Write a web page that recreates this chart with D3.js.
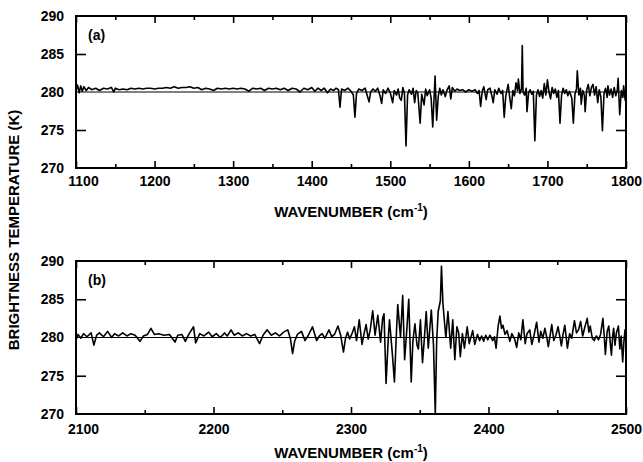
<!DOCTYPE html>
<html><head><meta charset="utf-8">
<script src="https://cdn.jsdelivr.net/npm/d3@7"></script>
<style>
body{margin:0;background:#fff;}
svg text{font-family:"Liberation Sans",Arial,sans-serif;font-weight:bold;fill:#000;}
</style></head>
<body><svg id="c" width="643" height="462"></svg>
<script>
// ---- Panel (a) data ----
const waveA = [1100,1102,1104,1106,1108,1110,1113,1116,1120,1125,1130,1135,1140,1145,1148,1150,1155,1160,1165,1170,1175,1180,1185,1190,1195,1200,1205,1210,1215,1220,1225,1230,1235,1240,1245,1250,1255,1260,1265,1270,1275,1280,1285,1290,1295,1300,1305,1310,1315,1320,1325,1330,1335,1340,1345,1350,1355,1360,1365,1370,1375,1380,1385,1390,1395,1400,1404,1408,1412,1416,1420,1424,1428,1431,1434,1436,1438,1442,1446,1450,1453,1455,1457,1460,1464,1468,1471,1473,1475,1478,1481,1484,1487,1489,1491,1494,1497,1500,1503,1505,1508,1510,1512,1514,1516,1518,1520,1522,1524,1527,1529,1531,1533,1535,1538,1540,1543,1545,1547,1550,1552,1554,1556,1557,1559,1561,1563,1565,1567,1570,1572,1575,1577,1579,1582,1585,1588,1592,1596,1600,1604,1608,1611,1613,1615,1617,1619,1622,1624,1627,1629,1631,1633,1636,1638,1641,1643,1645,1647,1650,1652,1654,1656,1658,1660,1662,1663,1665,1667,1668,1669,1671,1673,1674,1676,1678,1680,1682,1684,1686,1688,1690,1692,1694,1696,1698,1700,1702,1704,1706,1708,1710,1712,1714,1716,1718,1720,1722,1724,1726,1728,1731,1733,1735,1737,1738,1740,1742,1743,1745,1747,1748,1750,1752,1754,1756,1758,1760,1762,1764,1766,1768,1770,1772,1774,1776,1777,1779,1781,1783,1785,1787,1789,1790,1792,1794,1796,1797,1799,1800];
const tempA = [280.2,280.9,279.9,280.8,280.1,280.7,280.2,280.6,280.3,280.5,280.2,280.5,280.4,280.6,280.0,280.5,280.3,280.4,280.3,280.5,280.4,280.5,280.4,280.5,280.5,280.4,280.5,280.5,280.6,280.5,280.7,280.5,280.6,280.6,280.7,280.5,280.6,280.3,280.5,280.4,280.2,280.5,280.4,280.5,280.4,280.5,280.4,280.5,280.4,280.1,280.5,280.4,280.5,280.2,280.5,280.4,280.5,280.3,280.5,280.2,280.5,280.4,280.0,280.5,280.3,280.6,280.1,280.5,280.2,280.5,279.9,280.4,280.2,280.5,280.3,278.0,280.4,280.2,280.5,280.1,279.6,276.7,279.8,280.4,280.2,280.5,279.4,278.7,280.0,280.4,280.1,280.5,279.5,278.5,280.3,279.8,280.5,279.9,278.6,280.2,279.6,280.4,279.2,278.9,280.6,279.8,272.9,279.6,280.3,279.7,280.5,278.6,280.2,279.9,275.9,279.7,278.3,280.4,279.5,280.3,279.2,275.4,279.8,282.1,276.3,279.4,280.5,279.6,280.3,279.4,280.2,280.8,279.1,280.6,280.1,280.4,280.2,280.3,280.0,280.3,280.1,280.3,279.8,280.2,278.1,280.1,280.7,279.0,280.3,280.5,279.6,278.6,280.3,279.7,280.5,279.8,280.2,276.7,279.5,281.0,279.3,277.8,280.2,279.5,281.2,280.2,281.7,279.8,280.4,286.1,280.0,279.6,280.5,277.4,279.9,280.3,279.7,280.1,273.6,279.6,280.3,279.4,280.2,279.2,281.1,279.6,281.6,280.0,279.1,280.6,279.8,280.4,279.3,280.2,275.9,279.6,280.5,279.8,280.3,279.5,280.1,279.2,275.9,279.7,280.4,282.8,279.6,280.5,278.4,280.2,279.6,277.4,280.3,281.0,279.5,280.6,281.0,279.6,280.7,278.6,280.3,279.4,274.9,279.8,280.5,279.3,280.8,279.6,280.4,279.3,280.6,279.5,280.3,281.8,277.0,280.2,279.3,280.8,278.9,280.2];

// ---- Panel (b) data ----
const waveB = [2100,2101.5,2103.5,2105.5,2108,2111,2113,2115,2117,2120,2123,2126,2128,2131,2134,2137,2140,2143,2146.5,2149,2152,2154.5,2157,2160,2164,2168,2172,2174,2177,2179.5,2182,2185.5,2187,2190,2193,2196.5,2199,2202,2205,2208,2210,2212.8,2215,2218,2221,2224,2227,2230,2233.5,2236,2239,2242,2245,2248,2251,2254,2256,2257.5,2259,2261,2264,2266.5,2269,2272,2275,2277,2279,2281,2284,2286,2288,2290.5,2292.5,2294.5,2296,2297.5,2299,2300.5,2302.5,2304,2306,2308,2309.5,2311,2312.5,2314,2315.8,2317.5,2319.5,2320.5,2321.5,2323,2324,2325.5,2327,2328,2330,2331.6,2333,2334,2336,2337.6,2339,2340.5,2342,2343.8,2345,2346.5,2348,2349,2350.5,2352,2353.2,2354.7,2356.2,2358.4,2360,2361.3,2362.3,2363.4,2365,2365.8,2366.8,2368,2369,2370.5,2372.5,2374,2375.5,2377,2378.3,2379.5,2381,2382.5,2384.5,2386,2388.5,2390,2392,2393.5,2395,2396.5,2398,2399.5,2401,2403,2404.3,2405.5,2407,2408.3,2409.5,2410.5,2412,2413.5,2415.5,2417,2419,2420.5,2422,2423.5,2425,2426.7,2428,2430,2431.5,2433,2435,2436.7,2438,2439.5,2441,2442.3,2443.5,2445,2446,2447.5,2449,2450.6,2452,2453,2454.2,2455.5,2457.4,2459,2460.5,2462.5,2464,2465.5,2467,2468.5,2470,2471.8,2473,2474,2475.5,2476.8,2478.5,2480,2481.5,2483.2,2484.2,2485,2486.3,2487.5,2488.5,2489.4,2490.3,2491,2492,2493,2494.5,2495.5,2496.5,2497.6,2498.5,2499.3,2500];
const tempB = [279.7,280.4,279.9,280.5,280.1,280.6,279.0,280.3,280.6,280.1,280.8,280.0,280.5,280.2,280.6,280.2,280.5,280.3,279.5,280.2,280.4,281.2,280.4,280.5,280.3,280.4,279.4,280.3,280.4,279.5,280.4,281.4,279.3,280.5,280.2,280.7,280.1,280.5,280.0,280.6,280.2,281.0,280.3,280.6,280.2,280.5,280.2,280.4,279.2,280.3,281.0,280.3,280.6,280.2,280.7,281.0,279.8,277.9,279.5,280.4,280.8,279.6,280.3,281.4,279.6,280.2,280.5,279.9,281.0,280.1,280.4,281.5,280.3,278.1,279.9,280.7,279.8,280.4,281.4,279.6,282.3,279.1,280.5,281.7,279.8,281.0,283.5,280.3,282.9,281.2,279.4,282.5,283.1,274.0,279.5,282.3,278.0,274.2,280.5,284.3,280.0,285.5,277.1,280.8,285.0,274.2,279.5,281.8,279.0,278.5,282.3,276.7,279.5,283.4,278.6,283.6,279.0,270.0,279.5,283.4,284.8,289.3,284.6,282.0,280.0,283.4,278.6,282.3,277.1,281.4,280.6,277.5,280.5,278.6,281.4,279.2,280.9,279.1,280.4,279.6,280.2,279.5,280.3,279.7,280.3,279.6,280.1,278.6,281.5,282.8,281.2,281.6,280.4,280.9,279.5,280.5,279.8,278.7,280.6,279.7,282.3,279.2,280.5,281.0,279.1,280.2,282.0,279.4,280.8,279.9,281.2,280.1,278.8,280.5,281.7,279.6,280.3,281.4,280.0,278.9,280.4,281.6,278.6,280.5,279.9,282.2,280.6,281.0,282.1,280.2,281.3,282.5,280.7,281.5,279.9,279.6,280.2,279.7,280.4,282.5,280.1,277.8,280.8,281.5,279.4,277.7,280.2,281.2,279.0,280.6,281.5,278.5,280.2,276.8,279.5,281.0,279.2];

// ---- ticks ----
const yTickLabels = [270,275,280,285,290];
const yTickMarks = [275,285];
const xMajorA = [1100,1200,1300,1400,1500,1600,1700,1800];
const xMinorA = [1150,1250,1350,1450,1550,1650,1750];
const xMajorB = [2100,2200,2300,2400,2500];
const xMinorB = [2150,2250,2350,2450];
const refTemp = 280;

const svg = d3.select("#c");
const L = 76, R = 626;

function panel(opts){
  const {waves, temps, xDom, top, bottom, majors, minors, label, pad, titleY} = opts;
  const x = d3.scaleLinear().domain(xDom).range([L, R]);
  const y = d3.scaleLinear().domain([270, 290]).range([bottom, top]);
  const g = svg.append("g");
  const clipId = "clip" + label;
  svg.append("clipPath").attr("id", clipId).append("rect")
    .attr("x", L).attr("y", top).attr("width", R - L).attr("height", bottom - top);

  g.append("line").attr("x1", L).attr("x2", R).attr("y1", y(refTemp)).attr("y2", y(refTemp))
    .attr("stroke", "#000").attr("stroke-width", 1);

  const data = waves.map((w, i) => [w, temps[i]]);
  g.append("path").datum(data)
    .attr("clip-path", `url(#${clipId})`)
    .attr("fill", "none").attr("stroke", "#000").attr("stroke-width", 1.6)
    .attr("stroke-linejoin", "round")
    .attr("d", d3.line().x(d => x(d[0])).y(d => y(d[1])));

  const fmt = d => d;
  const bx = g.append("g").attr("transform", `translate(0,${bottom})`)
    .call(d3.axisBottom(x).tickValues(majors).tickSize(-7).tickPadding(pad).tickFormat(fmt));
  bx.selectAll("text").style("font-size", "14px");
  bx.selectAll("text").filter((d,i)=>i===0).attr("dx", "7");
  g.append("g").attr("transform", `translate(0,${bottom})`)
    .call(d3.axisBottom(x).tickValues(minors).tickSize(-4).tickFormat(""));
  g.append("g").attr("transform", `translate(0,${top})`)
    .call(d3.axisTop(x).tickValues(majors).tickSize(-7).tickFormat(""));
  g.append("g").attr("transform", `translate(0,${top})`)
    .call(d3.axisTop(x).tickValues(minors).tickSize(-4).tickFormat(""));
  const ly = g.append("g").attr("transform", `translate(${L},0)`)
    .call(d3.axisLeft(y).tickValues(yTickLabels).tickSize(0).tickPadding(12));
  ly.selectAll("text").style("font-size", "14px");
  g.append("g").attr("transform", `translate(${L},0)`)
    .call(d3.axisLeft(y).tickValues(yTickMarks).tickSize(-10).tickFormat(""));
  g.append("g").attr("transform", `translate(${R},0)`)
    .call(d3.axisRight(y).tickValues(yTickMarks).tickSize(-10).tickFormat(""));
  g.selectAll(".domain").remove();
  g.selectAll(".tick line").attr("stroke", "#000").attr("stroke-width", 1.6);

  g.append("rect").attr("x", L).attr("y", top).attr("width", R - L).attr("height", bottom - top)
    .attr("fill", "none").attr("stroke", "#000").attr("stroke-width", 2);

  g.append("text").attr("x", L + 12).attr("y", top + 24).style("font-size", "14px").text(`(${label})`);

  const t = g.append("text").attr("x", (L + R) / 2).attr("y", titleY)
    .attr("text-anchor", "middle").style("font-size", "15px");
  t.append("tspan").text("WAVENUMBER (cm");
  t.append("tspan").attr("dy", "-6").style("font-size", "10px").text("-1");
  t.append("tspan").attr("dy", "6").text(")");
}

panel({waves: waveA, temps: tempA, xDom: [1100, 1800], top: 16, bottom: 168, majors: xMajorA, minors: xMinorA, label: "a", pad: 8, titleY: 217});
panel({waves: waveB, temps: tempB, xDom: [2100, 2500], top: 261, bottom: 414, majors: xMajorB, minors: xMinorB, label: "b", pad: 10, titleY: 458});

svg.append("text").attr("transform", "translate(19,230) rotate(-90)")
  .attr("text-anchor", "middle").style("font-size", "15px")
  .text("BRIGHTNESS TEMPERATURE (K)");
</script></body></html>
